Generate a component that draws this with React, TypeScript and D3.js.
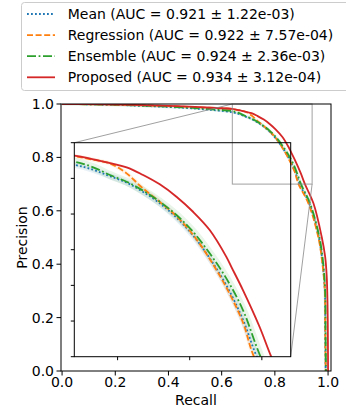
import * as d3 from 'd3';

// recall / precision points
const meanRecall = [0, 0.1, 0.2, 0.3, 0.4, 0.5, 0.58, 0.64, 0.6663, 0.6894, 0.7125, 0.7354, 0.7585, 0.7816, 0.8046, 0.8277, 0.8508, 0.8738, 0.893, 0.929, 0.965, 0.98, 0.988, 0.9895, 0.991];
const meanPrec = [1.0, 0.999, 0.997, 0.993, 0.989, 0.983, 0.976, 0.969, 0.962, 0.953, 0.944, 0.931, 0.915, 0.895, 0.87, 0.838, 0.8, 0.752, 0.7, 0.628, 0.503, 0.4, 0.3, 0.15, 0.0];

const regRecall = [0, 0.1, 0.2, 0.3, 0.4, 0.5, 0.58, 0.64, 0.6663, 0.6894, 0.7125, 0.734, 0.7585, 0.7816, 0.8046, 0.8277, 0.8508, 0.8738, 0.889, 0.926, 0.963, 0.979, 0.988, 0.9895, 0.991];
const regPrec = [1.0, 0.999, 0.998, 0.995, 0.992, 0.988, 0.985, 0.981, 0.976, 0.971, 0.957, 0.937, 0.917, 0.897, 0.871, 0.837, 0.797, 0.748, 0.7, 0.628, 0.503, 0.4, 0.3, 0.15, 0.0];

const ensRecall = [0, 0.1, 0.2, 0.3, 0.4, 0.5, 0.58, 0.64, 0.6663, 0.6894, 0.7125, 0.7354, 0.7585, 0.7816, 0.8046, 0.8277, 0.8508, 0.8738, 0.8982, 0.932, 0.967, 0.982, 0.989, 0.9905, 0.992];
const ensPrec = [1.0, 0.999, 0.997, 0.994, 0.99, 0.985, 0.979, 0.9734, 0.9655, 0.9547, 0.9453, 0.9327, 0.9173, 0.8986, 0.8752, 0.8449, 0.8098, 0.7654, 0.7, 0.628, 0.503, 0.4, 0.3, 0.15, 0.0];

const propRecall = [0, 0.1, 0.2, 0.3, 0.4, 0.5, 0.58, 0.64, 0.6663, 0.7125, 0.7354, 0.7585, 0.7816, 0.8046, 0.8277, 0.8508, 0.8577, 0.8738, 0.8968, 0.913, 0.945, 0.976, 0.989, 0.995, 0.998, 0.9995, 1.0];
const propPrec = [1.0, 0.9995, 0.998, 0.996, 0.993, 0.989, 0.985, 0.982, 0.9767, 0.9655, 0.9547, 0.9416, 0.9243, 0.9032, 0.8776, 0.84, 0.826, 0.7934, 0.742, 0.7, 0.628, 0.503, 0.428, 0.353, 0.25, 0.1, 0.0];

const seriesNames = ['Mean', 'Regression', 'Ensemble', 'Proposed'];
const aucMean = ['0.921', '0.922', '0.924', '0.934'];
const aucStd = ['1.22e-03', '7.57e-04', '2.36e-03', '3.12e-04'];
const xTicks = [0, 0.2, 0.4, 0.6, 0.8, 1.0];
const yTicks = [0, 0.2, 0.4, 0.6, 0.8, 1.0];
const insetXTicks = [0.7, 0.8, 0.9];
const insetYTicks = [0.7, 0.75, 0.8, 0.85, 0.9, 0.95, 1.0];
const zoomX = [0.64, 0.94];
const zoomY = [0.7, 1.0];

const W = 346;
const H = 414;
const FONT = 'DejaVu Sans, sans-serif';

// colour, dash pattern and width of the shaded band (inset px) per series
const styles = [
  { color: '#1f77b4', dash: '1.8,2.2', band: 6 },
  { color: '#ff7f0e', dash: '6,2.6', band: 4 },
  { color: '#2ca02c', dash: '9,2.6,1.8,2.6', band: 8 },
  { color: '#d62728', dash: null, band: 2 },
];

export default function App() {
  const series = [
    meanRecall.map((r, i) => [r, meanPrec[i]]),
    regRecall.map((r, i) => [r, regPrec[i]]),
    ensRecall.map((r, i) => [r, ensPrec[i]]),
    propRecall.map((r, i) => [r, propPrec[i]]),
  ] as [number, number][][];

  const x = d3.scaleLinear().domain([-0.004, 1.011]).range([61, 331]);
  const y = d3.scaleLinear().domain([0, 1]).range([371, 104]);
  const ix = d3.scaleLinear().domain(zoomX).range([74.3, 290.7]);
  const iy = d3.scaleLinear().domain(zoomY).range([356.7, 142.7]);

  const mainLine = d3.line<[number, number]>()
    .x(d => x(d[0])).y(d => y(d[1]))
    .curve(d3.curveCatmullRom.alpha(0.5));
  const insetLine = d3.line<[number, number]>()
    .x(d => ix(d[0])).y(d => iy(d[1]))
    .curve(d3.curveCatmullRom.alpha(0.5));

  const rx0 = x(zoomX[0]), rx1 = x(zoomX[1]);
  const ry0 = y(zoomY[1]), ry1 = y(zoomY[0]);

  const drawCurves = (line: any, scale: number) => (
    <>
      {series.map((s, i) => (
        <path key={'b' + i} d={line(s)} fill="none" stroke={styles[i].color} strokeOpacity={0.1}
          strokeWidth={styles[i].band * scale} strokeLinejoin="round" />
      ))}
      {series.map((s, i) => (
        <path key={'l' + i} d={line(s)} fill="none" stroke={styles[i].color} strokeWidth={1.8}
          strokeDasharray={styles[i].dash || undefined} />
      ))}
    </>
  );

  return (
    <svg width={W} height={H} style={{ position: 'absolute', left: 0, top: 0, background: '#fff' }}
      fontFamily={FONT}>
      <defs>
        <clipPath id="mainClip">
          <rect x={61} y={104} width={270} height={267} />
        </clipPath>
        <clipPath id="insetClip">
          <rect x={74.3} y={142.7} width={216.4} height={214} />
        </clipPath>
      </defs>

      {/* main curves */}
      <g clipPath="url(#mainClip)">{drawCurves(mainLine, 0.4)}</g>

      {/* inset curves */}
      <g clipPath="url(#insetClip)">{drawCurves(insetLine, 1)}</g>

      {/* zoom marker and connectors */}
      <rect x={rx0} y={ry0} width={rx1 - rx0} height={ry1 - ry0} fill="none" stroke="#888" strokeOpacity={0.8} />
      <line x1={74.3} y1={142.7} x2={rx0} y2={ry0} stroke="#888" strokeOpacity={0.8} />
      <line x1={290.7} y1={356.7} x2={rx1} y2={ry1} stroke="#888" strokeOpacity={0.8} />

      {/* inset frame + ticks */}
      <rect x={74.3} y={142.7} width={216.4} height={214} fill="none" stroke="#000" strokeWidth={1} />
      {insetXTicks.map(t => (
        <line key={t} x1={ix(t)} x2={ix(t)} y1={356.7} y2={360.2} stroke="#000" />
      ))}
      {insetYTicks.map(t => (
        <line key={t} x1={70.8} x2={74.3} y1={iy(t)} y2={iy(t)} stroke="#000" />
      ))}

      {/* main frame */}
      <rect x={61} y={104} width={270} height={267} fill="none" stroke="#000" strokeWidth={1} />
      {xTicks.map(t => (
        <g key={t}>
          <line x1={x(t)} x2={x(t)} y1={371} y2={375.5} stroke="#000" />
          <text x={x(t)} y={386.8} textAnchor="middle" fontSize={14}>{t.toFixed(1)}</text>
        </g>
      ))}
      {yTicks.map(t => (
        <g key={t}>
          <line x1={56.5} x2={61} y1={y(t)} y2={y(t)} stroke="#000" />
          <text x={54} y={y(t) + 5} textAnchor="end" fontSize={14}>{t.toFixed(1)}</text>
        </g>
      ))}
      <text x={196} y={404.5} textAnchor="middle" fontSize={14}>Recall</text>
      <text transform="translate(27,237.5) rotate(-90)" textAnchor="middle" fontSize={14}>Precision</text>

      {/* legend */}
      <rect x={21.5} y={2.5} width={340} height={88} rx={3} fill="#fff" fillOpacity={0.8} stroke="#ccc" />
      {seriesNames.map((n, i) => {
        const ly = 14 + i * 21.1;
        return (
          <g key={n}>
            <line x1={27} x2={55} y1={ly} y2={ly} stroke={styles[i].color} strokeWidth={1.8}
              strokeDasharray={styles[i].dash || undefined} />
            <text x={67.7} y={ly + 4.8} fontSize={14}>{`${n} (AUC = ${aucMean[i]} ± ${aucStd[i]})`}</text>
          </g>
        );
      })}
    </svg>
  );
}
